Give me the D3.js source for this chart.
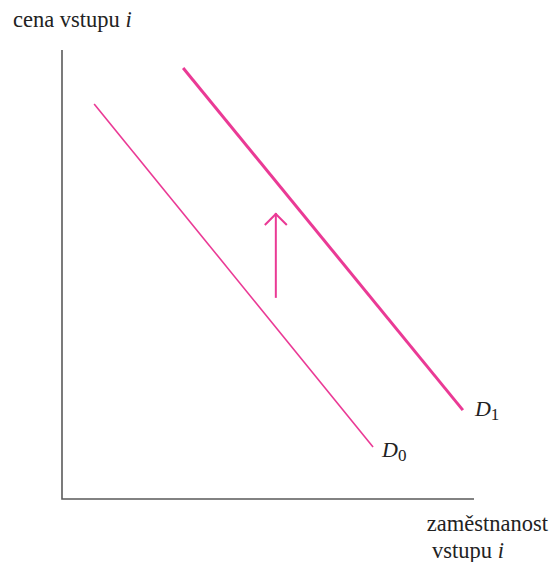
<!DOCTYPE html>
<html>
<head>
<meta charset="utf-8">
<script src="https://cdn.jsdelivr.net/npm/d3@7"></script>
<style>
  body { margin: 0; background: #fff; }
  svg text { font-family: "Liberation Serif", "Times New Roman", Times, "DejaVu Serif", serif; fill: #222; }
</style>
</head>
<body>
<div id="chart"></div>
<script>
// curve endpoints in chart units (0..100 on both axes)
const d0 = [[7.8, 88.0], [75.5, 11.6]];
const d1 = [[29.4, 96.0], [97.3, 19.8]];
const shift = [[51.9, 44.8], [51.9, 63.7]];
const labels = { d0: "D", d0sub: "0", d1: "D", d1sub: "1" };

const width = 551;
const height = 562;
const pink = "#ea3a95";
const serif = "Liberation Serif, Times New Roman, serif";

const svg = d3.select("#chart").append("svg")
    .attr("width", width)
    .attr("height", height);

const x = d3.scaleLinear().domain([0, 100]).range([62, 474]);
const y = d3.scaleLinear().domain([0, 100]).range([499, 50]);

const line = d3.line()
    .x(d => x(d[0]))
    .y(d => y(d[1]));

// axes
svg.append("path")
    .attr("d", line([[0, 100], [0, 0], [100, 0]]))
    .attr("fill", "none")
    .attr("stroke", "#5a5a5a")
    .attr("stroke-width", 1.6);

svg.append("path")
    .attr("d", line(d0))
    .attr("fill", "none")
    .attr("stroke", pink)
    .attr("stroke-width", 1.6);

svg.append("path")
    .attr("d", line(d1))
    .attr("fill", "none")
    .attr("stroke", pink)
    .attr("stroke-width", 3);

// shift arrow
svg.append("path")
    .attr("d", line(shift))
    .attr("fill", "none")
    .attr("stroke", pink)
    .attr("stroke-width", 2);

const tip = shift[1];
svg.append("path")
    .attr("d", "M" + (x(tip[0]) - 11) + "," + (y(tip[1]) + 12) +
        "L" + x(tip[0]) + "," + (y(tip[1]) + 1) +
        "L" + (x(tip[0]) + 11) + "," + (y(tip[1]) + 12))
    .attr("fill", "none")
    .attr("stroke", pink)
    .attr("stroke-width", 2);

// curve labels
function curveLabel(pt, main, sub, dx, dy) {
    const t = svg.append("text")
        .attr("font-family", serif)
        .attr("x", x(pt[0]) + dx)
        .attr("y", y(pt[1]) + dy)
        .attr("font-size", 22);
    t.append("tspan").attr("font-style", "italic").text(main);
    t.append("tspan").attr("font-size", 17).attr("dy", 4).text(sub);
}
curveLabel(d0[1], labels.d0, labels.d0sub, 9, 10);
curveLabel(d1[1], labels.d1, labels.d1sub, 12, 6);

// axis titles
const yTitle = svg.append("text")
    .attr("font-family", serif)
    .attr("x", 13)
    .attr("y", 27)
    .attr("font-size", 22.5);
yTitle.append("tspan").text("cena vstupu ");
yTitle.append("tspan").attr("font-style", "italic").text("i");

svg.append("text")
    .attr("font-family", serif)
    .attr("x", 548)
    .attr("y", 531)
    .attr("font-size", 22.5)
    .attr("text-anchor", "end")
    .text("zaměstnanost");

const xTitle = svg.append("text")
    .attr("font-family", serif)
    .attr("x", 432)
    .attr("y", 558)
    .attr("font-size", 22.5);
xTitle.append("tspan").text("vstupu ");
xTitle.append("tspan").attr("font-style", "italic").text("i");
</script>
</body>
</html>
